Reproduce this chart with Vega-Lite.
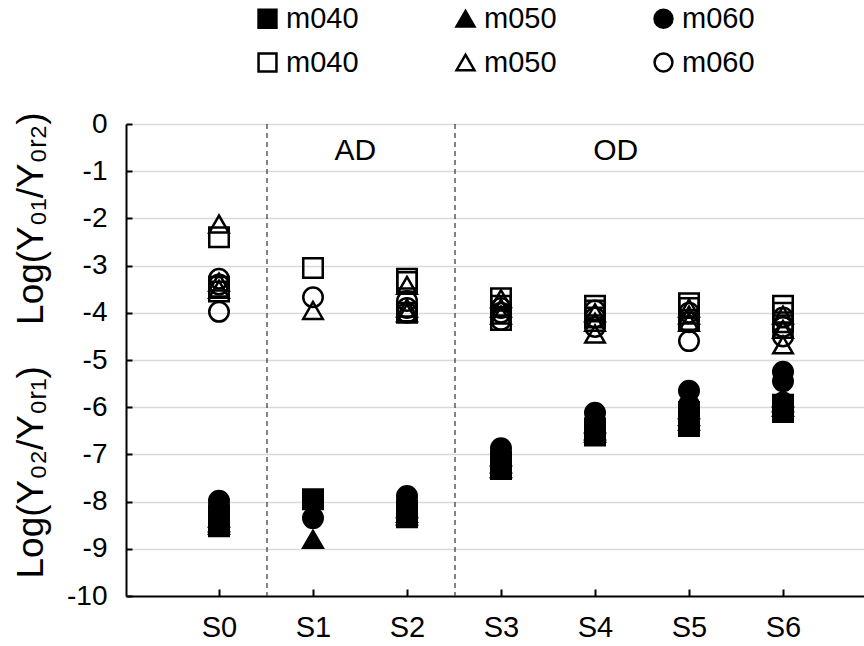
{
  "$schema": "https://vega.github.io/schema/vega-lite/v6.json",
  "width": 738,
  "height": 472,
  "autosize": {"type": "none"},
  "padding": {"left": 126, "top": 124, "right": 0, "bottom": 50},
  "background": "white",
  "config": {
    "view": {"stroke": null},
    "font": "Liberation Sans",
    "axis": {"labelFont": "Liberation Sans", "titleFont": "Liberation Sans", "labelColor": "#000", "titleColor": "#000"}
  },
  "datasets": {
    "pts": [
      {"stage": "S0", "group": "m040 open", "value": -2.4},
      {"stage": "S0", "group": "m040 open", "value": -3.45},
      {"stage": "S0", "group": "m040 open", "value": -3.55},
      {"stage": "S0", "group": "m050 open", "value": -2.12},
      {"stage": "S0", "group": "m050 open", "value": -3.35},
      {"stage": "S0", "group": "m050 open", "value": -3.5},
      {"stage": "S0", "group": "m060 open", "value": -3.28},
      {"stage": "S0", "group": "m060 open", "value": -3.4},
      {"stage": "S0", "group": "m060 open", "value": -3.98},
      {"stage": "S1", "group": "m040 open", "value": -3.05},
      {"stage": "S1", "group": "m050 open", "value": -3.95},
      {"stage": "S1", "group": "m060 open", "value": -3.67},
      {"stage": "S2", "group": "m040 open", "value": -3.28},
      {"stage": "S2", "group": "m040 open", "value": -3.35},
      {"stage": "S2", "group": "m040 open", "value": -4.0},
      {"stage": "S2", "group": "m050 open", "value": -3.42},
      {"stage": "S2", "group": "m050 open", "value": -3.9},
      {"stage": "S2", "group": "m050 open", "value": -4.0},
      {"stage": "S2", "group": "m060 open", "value": -3.75},
      {"stage": "S2", "group": "m060 open", "value": -3.9},
      {"stage": "S2", "group": "m060 open", "value": -4.0},
      {"stage": "S3", "group": "m040 open", "value": -3.69},
      {"stage": "S3", "group": "m040 open", "value": -3.85},
      {"stage": "S3", "group": "m040 open", "value": -4.15},
      {"stage": "S3", "group": "m050 open", "value": -3.7},
      {"stage": "S3", "group": "m050 open", "value": -3.9},
      {"stage": "S3", "group": "m050 open", "value": -4.05},
      {"stage": "S3", "group": "m060 open", "value": -3.9},
      {"stage": "S3", "group": "m060 open", "value": -4.0},
      {"stage": "S3", "group": "m060 open", "value": -4.15},
      {"stage": "S4", "group": "m040 open", "value": -3.85},
      {"stage": "S4", "group": "m040 open", "value": -3.95},
      {"stage": "S4", "group": "m040 open", "value": -4.1},
      {"stage": "S4", "group": "m050 open", "value": -4.0},
      {"stage": "S4", "group": "m050 open", "value": -4.2},
      {"stage": "S4", "group": "m050 open", "value": -4.45},
      {"stage": "S4", "group": "m060 open", "value": -3.95},
      {"stage": "S4", "group": "m060 open", "value": -4.1},
      {"stage": "S4", "group": "m060 open", "value": -4.3},
      {"stage": "S5", "group": "m040 open", "value": -3.8},
      {"stage": "S5", "group": "m040 open", "value": -3.9},
      {"stage": "S5", "group": "m040 open", "value": -4.15},
      {"stage": "S5", "group": "m050 open", "value": -3.9},
      {"stage": "S5", "group": "m050 open", "value": -4.05},
      {"stage": "S5", "group": "m050 open", "value": -4.2},
      {"stage": "S5", "group": "m060 open", "value": -4.0},
      {"stage": "S5", "group": "m060 open", "value": -4.2},
      {"stage": "S5", "group": "m060 open", "value": -4.6},
      {"stage": "S6", "group": "m040 open", "value": -3.85},
      {"stage": "S6", "group": "m040 open", "value": -4.0},
      {"stage": "S6", "group": "m040 open", "value": -4.2},
      {"stage": "S6", "group": "m050 open", "value": -4.05},
      {"stage": "S6", "group": "m050 open", "value": -4.35},
      {"stage": "S6", "group": "m050 open", "value": -4.68},
      {"stage": "S6", "group": "m060 open", "value": -4.1},
      {"stage": "S6", "group": "m060 open", "value": -4.3},
      {"stage": "S6", "group": "m060 open", "value": -4.5},
      {"stage": "S0", "group": "m040 filled", "value": -8.3},
      {"stage": "S0", "group": "m040 filled", "value": -8.45},
      {"stage": "S0", "group": "m040 filled", "value": -8.52},
      {"stage": "S0", "group": "m050 filled", "value": -8.35},
      {"stage": "S0", "group": "m050 filled", "value": -8.45},
      {"stage": "S0", "group": "m050 filled", "value": -8.5},
      {"stage": "S0", "group": "m060 filled", "value": -7.98},
      {"stage": "S0", "group": "m060 filled", "value": -8.1},
      {"stage": "S0", "group": "m060 filled", "value": -8.2},
      {"stage": "S1", "group": "m040 filled", "value": -7.95},
      {"stage": "S1", "group": "m050 filled", "value": -8.8},
      {"stage": "S1", "group": "m060 filled", "value": -8.35},
      {"stage": "S2", "group": "m040 filled", "value": -8.2},
      {"stage": "S2", "group": "m040 filled", "value": -8.3},
      {"stage": "S2", "group": "m040 filled", "value": -8.33},
      {"stage": "S2", "group": "m050 filled", "value": -8.15},
      {"stage": "S2", "group": "m050 filled", "value": -8.25},
      {"stage": "S2", "group": "m050 filled", "value": -8.3},
      {"stage": "S2", "group": "m060 filled", "value": -7.88},
      {"stage": "S2", "group": "m060 filled", "value": -8.0},
      {"stage": "S2", "group": "m060 filled", "value": -8.1},
      {"stage": "S3", "group": "m040 filled", "value": -7.15},
      {"stage": "S3", "group": "m040 filled", "value": -7.25},
      {"stage": "S3", "group": "m040 filled", "value": -7.31},
      {"stage": "S3", "group": "m050 filled", "value": -7.05},
      {"stage": "S3", "group": "m050 filled", "value": -7.2},
      {"stage": "S3", "group": "m050 filled", "value": -7.3},
      {"stage": "S3", "group": "m060 filled", "value": -6.87},
      {"stage": "S3", "group": "m060 filled", "value": -7.0},
      {"stage": "S3", "group": "m060 filled", "value": -7.1},
      {"stage": "S4", "group": "m040 filled", "value": -6.45},
      {"stage": "S4", "group": "m040 filled", "value": -6.55},
      {"stage": "S4", "group": "m040 filled", "value": -6.6},
      {"stage": "S4", "group": "m050 filled", "value": -6.35},
      {"stage": "S4", "group": "m050 filled", "value": -6.5},
      {"stage": "S4", "group": "m050 filled", "value": -6.55},
      {"stage": "S4", "group": "m060 filled", "value": -6.12},
      {"stage": "S4", "group": "m060 filled", "value": -6.3},
      {"stage": "S4", "group": "m060 filled", "value": -6.35},
      {"stage": "S5", "group": "m040 filled", "value": -6.1},
      {"stage": "S5", "group": "m040 filled", "value": -6.25},
      {"stage": "S5", "group": "m040 filled", "value": -6.4},
      {"stage": "S5", "group": "m050 filled", "value": -6.05},
      {"stage": "S5", "group": "m050 filled", "value": -6.2},
      {"stage": "S5", "group": "m050 filled", "value": -6.3},
      {"stage": "S5", "group": "m060 filled", "value": -5.65},
      {"stage": "S5", "group": "m060 filled", "value": -5.95},
      {"stage": "S5", "group": "m060 filled", "value": -6.0},
      {"stage": "S6", "group": "m040 filled", "value": -5.95},
      {"stage": "S6", "group": "m040 filled", "value": -6.05},
      {"stage": "S6", "group": "m040 filled", "value": -6.1},
      {"stage": "S6", "group": "m050 filled", "value": -5.8},
      {"stage": "S6", "group": "m050 filled", "value": -5.9},
      {"stage": "S6", "group": "m050 filled", "value": -6.0},
      {"stage": "S6", "group": "m060 filled", "value": -5.25},
      {"stage": "S6", "group": "m060 filled", "value": -5.45},
      {"stage": "S6", "group": "m060 filled", "value": -5.9}
    ],
    "dividers": [{"boundary": 1.5}, {"boundary": 3.5}],
    "regions": [
      {"pos": 2.44, "value": -0.57, "label": "AD"},
      {"pos": 5.21, "value": -0.57, "label": "OD"}
    ]
  },
  "resolve": {"scale": {"x": "independent"}, "axis": {"x": "independent"}},
  "layer": [
    {
      "data": {"name": "pts"},
      "mark": {"type": "point", "filled": true, "strokeWidth": 2.5, "size": 380, "opacity": 1, "fillOpacity": 1, "strokeOpacity": 1},
      "encoding": {
        "x": {
          "field": "stage", "type": "ordinal",
          "scale": {"type": "point", "domain": ["S0", "S1", "S2", "S3", "S4", "S5", "S6"], "padding": 0.9255, "align": 0.5345},
          "axis": {
            "title": null, "labelAngle": 0, "labelFontSize": 29, "labelPadding": 24,
            "domainColor": "#000", "domainWidth": 2, "tickColor": "#000", "tickWidth": 2, "tickSize": -7,
            "grid": false
          }
        },
        "y": {
          "field": "value", "type": "quantitative",
          "scale": {"domain": [-10, 0], "nice": false, "zero": false},
          "axis": {
            "title": "Log(Y₀₂/Y₀ᵣ₁)\u00a0\u00a0\u00a0\u00a0Log(Y₀₁/Y₀ᵣ₂)",
            "titleFontSize": 37, "titleFontWeight": "normal", "titlePadding": 16, "titleY": 221,
            "values": [0, -1, -2, -3, -4, -5, -6, -7, -8, -9, -10],
            "labelExpr": "'' + datum.value",
            "labelFontSize": 28, "labelPadding": 25,
            "domainColor": "#000", "domainWidth": 2, "tickColor": "#000", "tickWidth": 2, "tickSize": -6,
            "grid": true, "gridColor": "#d9d9d9", "gridWidth": 1.5
          }
        },
        "shape": {
          "field": "group", "type": "nominal",
          "scale": {
            "domain": ["m040 filled", "m040 open", "m050 filled", "m050 open", "m060 filled", "m060 open"],
            "range": ["square", "square", "triangle-up", "triangle-up", "circle", "circle"]
          },
          "legend": {
            "orient": "none", "legendX": 127, "legendY": -120, "columns": 3, "title": null,
            "labelExpr": "split(datum.label, ' ')[0]", "labelFontSize": 29, "labelFont": "Liberation Sans", "labelColor": "#000",
            "symbolSize": 320, "symbolStrokeWidth": 2.5,
            "columnPadding": 92, "rowPadding": 14, "labelOffset": 4
          }
        },
        "fill": {
          "field": "group", "type": "nominal",
          "scale": {
            "domain": ["m040 filled", "m040 open", "m050 filled", "m050 open", "m060 filled", "m060 open"],
            "range": ["#000000", "rgba(255,255,255,0)", "#000000", "rgba(255,255,255,0)", "#000000", "rgba(255,255,255,0)"]
          },
          "legend": {
            "orient": "none", "legendX": 127, "legendY": -120, "columns": 3, "title": null,
            "labelExpr": "split(datum.label, ' ')[0]", "labelFontSize": 29, "labelFont": "Liberation Sans", "labelColor": "#000",
            "symbolSize": 320, "symbolStrokeWidth": 2.5,
            "columnPadding": 92, "rowPadding": 14, "labelOffset": 4
          }
        },
        "stroke": {
          "field": "group", "type": "nominal",
          "scale": {
            "domain": ["m040 filled", "m040 open", "m050 filled", "m050 open", "m060 filled", "m060 open"],
            "range": ["#000000", "#000000", "#000000", "#000000", "#000000", "#000000"]
          },
          "legend": {
            "orient": "none", "legendX": 127, "legendY": -120, "columns": 3, "title": null,
            "labelExpr": "split(datum.label, ' ')[0]", "labelFontSize": 29, "labelFont": "Liberation Sans", "labelColor": "#000",
            "symbolSize": 320, "symbolStrokeWidth": 2.5,
            "columnPadding": 92, "rowPadding": 14, "labelOffset": 4
          }
        }
      }
    },
    {
      "layer": [
        {
          "data": {"name": "dividers"},
          "mark": {"type": "rule", "color": "#333", "strokeWidth": 1.2, "strokeDash": [5, 4]},
          "encoding": {
            "x": {"field": "boundary", "type": "quantitative", "scale": {"domain": [0, 7.851], "nice": false, "zero": false}, "axis": null}
          }
        },
        {
          "data": {"name": "regions"},
          "mark": {"type": "text", "fontSize": 30, "font": "Liberation Sans", "color": "#000", "align": "center", "baseline": "middle"},
          "encoding": {
            "x": {"field": "pos", "type": "quantitative", "scale": {"domain": [0, 7.851], "nice": false, "zero": false}, "axis": null},
            "y": {"field": "value", "type": "quantitative"},
            "text": {"field": "label"}
          }
        }
      ]
    }
  ]
}
